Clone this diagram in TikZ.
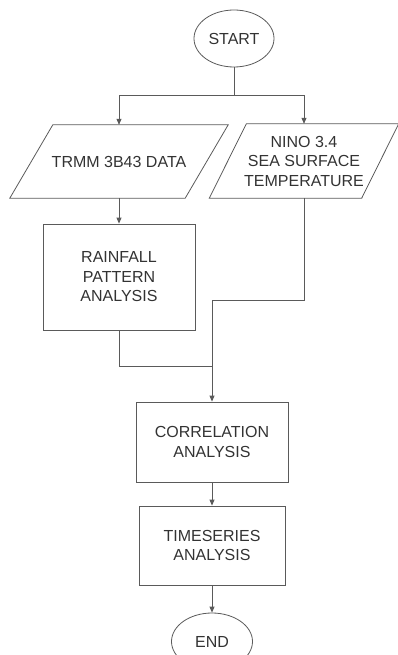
\documentclass[tikz,border=0pt]{standalone}
\usepackage{fontspec}
\setmainfont{Liberation Sans}
\usetikzlibrary{shapes.geometric,arrows.meta}
\definecolor{linegray}{HTML}{5A5A5A}
\definecolor{textgray}{HTML}{333333}
\tikzset{
  base/.style={font=\fontsize{16}{19.5}\selectfont, text=textgray, align=center, inner sep=0pt},
  term/.style={base, ellipse, draw=linegray, line width=0.8pt, minimum width=80pt, minimum height=57pt},
  procbox/.style={base, rectangle, draw=linegray, line width=0.8pt},
  iobox/.style={base, rectangle},
  conn/.style={draw=linegray, line width=0.8pt},
  arr/.style={conn, -{Triangle[length=6pt,width=5pt]}},
  para/.style={draw=linegray, line width=0.8pt}
}
\begin{document}
\begin{tikzpicture}[x=1pt,y=-1pt]
\useasboundingbox (0,0) rectangle (397,655);
\node[term] (start) at (234,38.5) {START};
\node[iobox, minimum width=175pt, minimum height=73pt] (trmm) at (119,161.5) {TRMM 3B43 DATA};
\node[iobox, minimum width=152pt, minimum height=74pt] (nino) at (304,161) {NINO 3.4\\SEA SURFACE\\TEMPERATURE};
\draw[para] ([xshift=21.5pt]trmm.north west) -- ([xshift=21.5pt]trmm.north east) -- ([xshift=-21.5pt]trmm.south east) -- ([xshift=-21.5pt]trmm.south west) -- cycle;
\draw[para] ([xshift=18.5pt]nino.north west) -- ([xshift=18.5pt]nino.north east) -- ([xshift=-18.5pt]nino.south east) -- ([xshift=-18.5pt]nino.south west) -- cycle;
\node[procbox, minimum width=152pt, minimum height=106pt] (rain) at (119,277) {RAINFALL\\PATTERN\\ANALYSIS};
\node[procbox, minimum width=152pt, minimum height=80pt] (corr) at (212,442) {CORRELATION\\ANALYSIS};
\node[procbox, minimum width=146pt, minimum height=79pt] (ts) at (212,545.5) {TIMESERIES\\ANALYSIS};
\node[term, minimum width=81pt] (endn) at (212,641.5) {END};
\coordinate (split) at (234,95);
\coordinate (bend) at (212,300);
\coordinate (join) at (212,366);
\draw[conn] (start.south) -- (split);
\draw[arr] (split) -| (trmm.north);
\draw[arr] (split) -| (nino.north);
\draw[arr] (trmm.south) -- (rain.north);
\draw[conn] (nino.south) |- (bend);
\draw[arr] (bend) -- (corr.north);
\draw[conn] (rain.south) |- (join);
\draw[arr] (corr.south) -- (ts.north);
\draw[arr] (ts.south) -- (endn.north);
\end{tikzpicture}
\end{document}
